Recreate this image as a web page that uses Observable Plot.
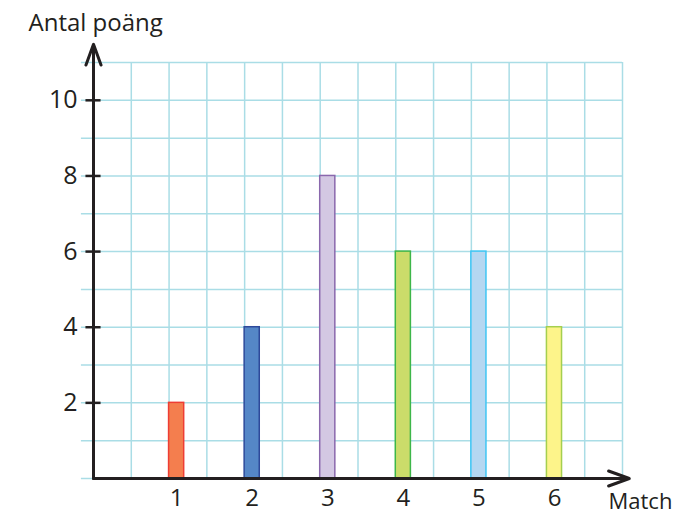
<!DOCTYPE html>
<html><head><meta charset="utf-8">
<script src="https://cdn.jsdelivr.net/npm/d3@7"></script>
<script src="https://cdn.jsdelivr.net/npm/@observablehq/plot@0.6"></script>
<style>body{margin:0;background:#fff}</style>
</head><body><div id="chart"></div>
<script>
const matches = [1, 2, 3, 4, 5, 6];
const points = [2, 4, 8, 6, 6, 4];
const fills = ["#f47e4e", "#5587c7", "#d3c8e3", "#cbdc6a", "#b5d7f1", "#fdf48a"];
const strokes = ["#ee3d34", "#2e4a9b", "#8a68ad", "#3db649", "#3fc6f4", "#a5cf4f"];
const yTicks = [2, 4, 6, 8, 10];
const xLabel = "Match";
const yLabel = "Antal poäng";

const data = matches.map((m, i) => ({match: m, points: points[i], fill: fills[i], stroke: strokes[i]}));
const gridX = d3.range(1, 15).map(i => i / 2);
const gridY = d3.range(0, 12);
const ink = "#231f20";
const gridColor = "#aadde6";

const plot = Plot.plot({
  width: 680, height: 513,
  marginLeft: 93, marginRight: 58, marginTop: 62, marginBottom: 35,
  x: {domain: [0, 7], axis: null},
  y: {domain: [0, 11], axis: null},
  color: {type: "identity"},
  style: {fontFamily: "'Open Sans', sans-serif", background: "white", overflow: "visible"},
  marks: [
    Plot.ruleX(gridX, {x: d => d, y1: 0, y2: 11, stroke: gridColor, strokeWidth: 1.5}),
    Plot.ruleY(gridY, {y: d => d, x1: -0.16, x2: 7, stroke: gridColor, strokeWidth: 1.5}),
    Plot.rect(data, {x1: "match", x2: d => d.match + 0.2, y1: 0, y2: "points", fill: "fill", stroke: "stroke", strokeWidth: 1.5}),
    Plot.arrow([0], {x1: 0, y1: 0, x2: 0, y2: 11.48, stroke: ink, strokeWidth: 3, headLength: 11, headAngle: 40}),
    Plot.arrow([0], {x1: 0, y1: 0, x2: 7.09, y2: 0, stroke: ink, strokeWidth: 3, headLength: 11, headAngle: 40}),
    Plot.ruleY(yTicks, {y: d => d, x1: -0.1, x2: 0.1, stroke: ink, strokeWidth: 2.5}),
    Plot.text(yTicks, {x: 0, y: d => d, text: d => String(d), textAnchor: "end", dx: -16, fontSize: 25, fill: ink}),
    Plot.text(matches, {x: d => d + 0.1, y: 0, text: d => String(d), dy: 20, fontSize: 24, fill: ink}),
    Plot.text([yLabel], {x: 0, y: 11, text: d => d, textAnchor: "start", dx: -65, dy: -39, fontSize: 24, fill: ink}),
    Plot.text([xLabel], {x: 7, y: 0, text: d => d, textAnchor: "start", dx: -14, dy: 23, fontSize: 22, fill: ink})
  ]
});
document.getElementById("chart").appendChild(plot);
</script>
</body></html>
